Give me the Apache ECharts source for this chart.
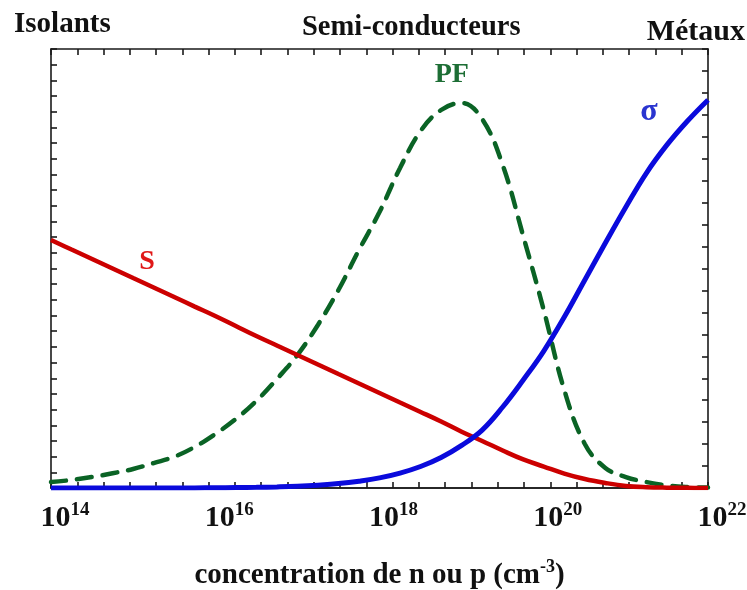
<!DOCTYPE html>
<html>
<head>
<meta charset="utf-8">
<script src="https://cdn.jsdelivr.net/npm/echarts@6/dist/echarts.min.js"></script>
<style>
  html, body { margin: 0; padding: 0; background: #fff; }
  #chart { width: 747px; height: 590px; }
</style>
</head>
<body>
<div id="chart"></div>
<script>
// log10 of the carrier concentration (cm^-3)
const logN = [14, 14.25, 14.5, 14.75, 15, 15.25, 15.5, 15.75, 16, 16.25, 16.5, 16.75,
              17, 17.25, 17.5, 17.75, 18, 18.25, 18.5, 18.75, 19, 19.25, 19.5, 19.75,
              20, 20.25, 20.5, 20.75, 21, 21.25, 21.5, 21.75, 22];

// Seebeck coefficient S (arbitrary units, left scale)
const seebeck = [15.82, 15.21, 14.61, 14.00, 13.39, 12.79, 12.18, 11.57, 10.97, 10.33, 9.69, 9.09,
                 8.48, 7.88, 7.27, 6.67, 6.06, 5.45, 4.85, 4.24, 3.59, 3.00, 2.39, 1.82,
                 1.37, 0.92, 0.57, 0.32, 0.13, 0.05, 0.02, 0.01, 0.00];

// Power factor PF (arbitrary units, left scale)
const powerFactor = [0.38, 0.51, 0.70, 0.94, 1.21, 1.59, 1.99, 2.62, 3.44, 4.40, 5.55, 6.95,
                     8.48, 10.40, 12.63, 15.18, 17.60, 20.41, 22.77, 24.11, 24.56, 23.53, 20.60, 16.07,
                     11.35, 6.25, 2.81, 1.28, 0.70, 0.38, 0.16, 0.06, 0.03];

// Electrical conductivity sigma (arbitrary units, right scale)
const sigma = [0.00, 0.00, 0.00, 0.00, 0.00, 0.00, 0.00, 0.005, 0.01, 0.02, 0.03, 0.05,
               0.08, 0.13, 0.20, 0.31, 0.46, 0.68, 0.98, 1.39, 1.94, 2.64, 3.69, 4.92,
               6.24, 7.79, 9.48, 11.16, 12.80, 14.35, 15.63, 16.72, 17.68];

// Decade labels on the concentration axis
const decadeLabels = [14, 16, 18, 20, 22];

// Curve names and where they are written (x in log10 n, y in the curve's own scale)
const curveNames = ['S', 'PF', 'σ'];
const curveNameAt = [[15.17, 14.41], [18.88, 26.34], [21.28, 17.13]];

// Regime headings above the plot
const regimes = ['Isolants', 'Semi-conducteurs', 'Métaux'];

const SERIF = '"Liberation Serif", "Times New Roman", serif';
const AXIS_COLOR = '#1a1a1a';
const RED = '#cc0000';
const GREEN = '#0a6325';
const BLUE = '#0a0adc';

const pair = (xs, ys) => xs.map((x, i) => [x, ys[i]]);

const chart = echarts.init(document.getElementById('chart'), null, { renderer: 'canvas' });

// Frame sides that only carry evenly spaced inner ticks
const tickAxis = (position, max) => ({
  type: 'value',
  position: position,
  min: 0, max: max, interval: 1,
  axisLine: { show: true, onZero: false, lineStyle: { color: AXIS_COLOR, width: 1.6 } },
  axisTick: { show: true, inside: true, length: 6, lineStyle: { color: AXIS_COLOR, width: 1.6 } },
  axisLabel: { show: false },
  splitLine: { show: false }
});

const nameLabel = (name, color, size) => ({
  show: true,
  position: 'inside',
  formatter: name,
  color: color,
  fontFamily: SERIF,
  fontWeight: 'bold',
  fontSize: size
});

chart.setOption({
  animation: false,
  backgroundColor: '#ffffff',
  grid: { left: 51, right: 39, top: 49, bottom: 102, containLabel: false, outerBoundsMode: 'none' },
  xAxis: [
    {
      type: 'value',
      min: 14, max: 22, interval: 2,
      position: 'bottom',
      axisLine: { show: true, onZero: false, lineStyle: { color: AXIS_COLOR, width: 1.6 } },
      axisTick: { show: false },
      splitLine: { show: false },
      axisLabel: {
        margin: 13,
        padding: [0, 0, 0, 28],
        formatter: v => decadeLabels.includes(v) ? '{b|10}{s|' + v + '}' : '',
        rich: {
          b: { fontFamily: SERIF, fontWeight: 'bold', fontSize: 30, color: '#111', lineHeight: 32, verticalAlign: 'bottom' },
          s: { fontFamily: SERIF, fontWeight: 'bold', fontSize: 19, color: '#111', lineHeight: 32, verticalAlign: 'top' }
        }
      },
      name: '{t|concentration de n ou p (cm}{u|-3}{t|)}',
      nameLocation: 'middle',
      nameGap: 70,
      nameTextStyle: {
        rich: {
          t: { fontFamily: SERIF, fontWeight: 'bold', fontSize: 29, color: '#111', lineHeight: 32, verticalAlign: 'bottom' },
          u: { fontFamily: SERIF, fontWeight: 'bold', fontSize: 18, color: '#111', lineHeight: 32, verticalAlign: 'top' }
        }
      }
    },
    tickAxis('bottom', 25),
    tickAxis('top', 25)
  ],
  yAxis: [
    tickAxis('left', 28),
    tickAxis('right', 20)
  ],
  series: [
    {
      name: 'S', type: 'line', xAxisIndex: 0, yAxisIndex: 0,
      data: pair(logN, seebeck), smooth: 0.4, showSymbol: false,
      lineStyle: { color: RED, width: 4.5 },
      markPoint: {
        symbolSize: 0,
        data: [{ coord: curveNameAt[0], label: nameLabel(curveNames[0], '#e01818', 28) }]
      },
      z: 3
    },
    {
      name: 'PF', type: 'line', xAxisIndex: 0, yAxisIndex: 0,
      data: pair(logN, powerFactor), smooth: 0.4, showSymbol: false,
      lineStyle: { color: GREEN, width: 4.5, type: [15, 11], cap: 'round' },
      markPoint: {
        symbolSize: 0,
        data: [{ coord: curveNameAt[1], label: nameLabel(curveNames[1], '#1d6e35', 28) }]
      },
      z: 2
    },
    {
      name: 'σ', type: 'line', xAxisIndex: 0, yAxisIndex: 1,
      data: pair(logN, sigma), smooth: 0.4, showSymbol: false,
      lineStyle: { color: BLUE, width: 5 },
      markPoint: {
        symbolSize: 0,
        data: [{ coord: curveNameAt[2], label: nameLabel(curveNames[2], '#2a35d0', 32) }]
      },
      z: 4
    }
  ],
  graphic: [
    { type: 'text', left: 14, top: 10,
      style: { text: regimes[0], font: 'bold 29px ' + SERIF, fill: '#111' } },
    { type: 'text', left: 302, top: 13,
      style: { text: regimes[1], font: 'bold 28.5px ' + SERIF, fill: '#111' } },
    { type: 'text', right: 2, top: 17,
      style: { text: regimes[2], font: 'bold 30px ' + SERIF, fill: '#111' } }
  ]
});
</script>
</body>
</html>
